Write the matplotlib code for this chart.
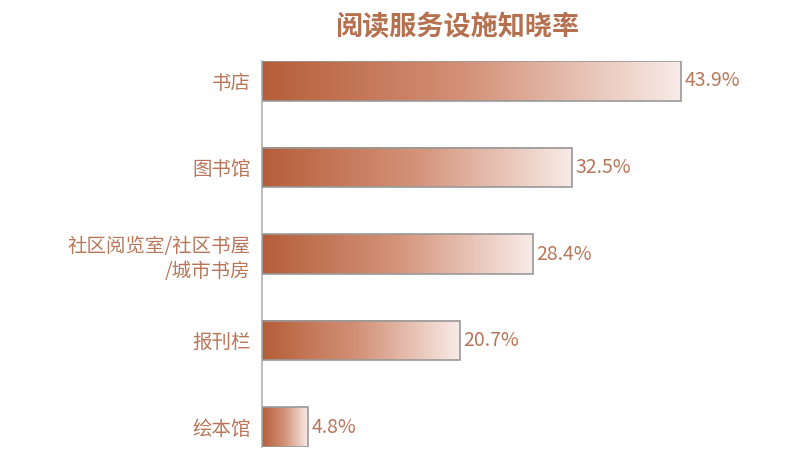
import numpy as np
import matplotlib.pyplot as plt
from matplotlib.colors import LinearSegmentedColormap

plt.rcParams['font.family'] = ['Noto Sans CJK SC', 'DejaVu Sans']

categories = ['书店', '图书馆', '社区阅览室/社区书屋\n/城市书房', '报刊栏', '绘本馆']
values = [43.9, 32.5, 28.4, 20.7, 4.8]
labels = ['43.9%', '32.5%', '28.4%', '20.7%', '4.8%']

txt = '#b8775a'
cmap = LinearSegmentedColormap.from_list('copper', ['#b55e39', '#d4937a', '#f8ebe7'])
grad = np.linspace(0, 1, 256).reshape(1, -1)

fig = plt.figure(figsize=(8, 4.5), dpi=100)
ax = fig.add_axes([0.3275, 0.0067, 0.5725, 0.8577])

h = 0.46
for i, v in enumerate(values):
    ax.imshow(grad, cmap=cmap, aspect='auto', extent=[0, v, i + h / 2, i - h / 2], zorder=2)
    ax.add_patch(plt.Rectangle((0, i - h / 2), v, h, fill=False, ec='#999999', lw=1.2, zorder=3))
    ax.text(v + 0.35, i, labels[i], va='center', ha='left', fontsize=14, color=txt)

ax.set_xlim(0, 48)
ax.set_ylim(len(values) - 1 + h / 2, -h / 2)
ax.set_yticks(range(len(values)))
ax.set_yticklabels(categories, fontsize=14, color=txt, ha='right', linespacing=1.3)
ax.tick_params(axis='y', length=0, pad=8)
ax.set_xticks([])
for s in ['top', 'right', 'bottom']:
    ax.spines[s].set_visible(False)
ax.spines['left'].set_color('#b0b0b0')
ax.spines['left'].set_linewidth(1.2)

fig.text(0.571, 0.94, '阅读服务设施知晓率', ha='center', va='center',
         fontsize=19.5, fontweight='bold', color='#b5714f')

fig.savefig('out.png', dpi=100)
